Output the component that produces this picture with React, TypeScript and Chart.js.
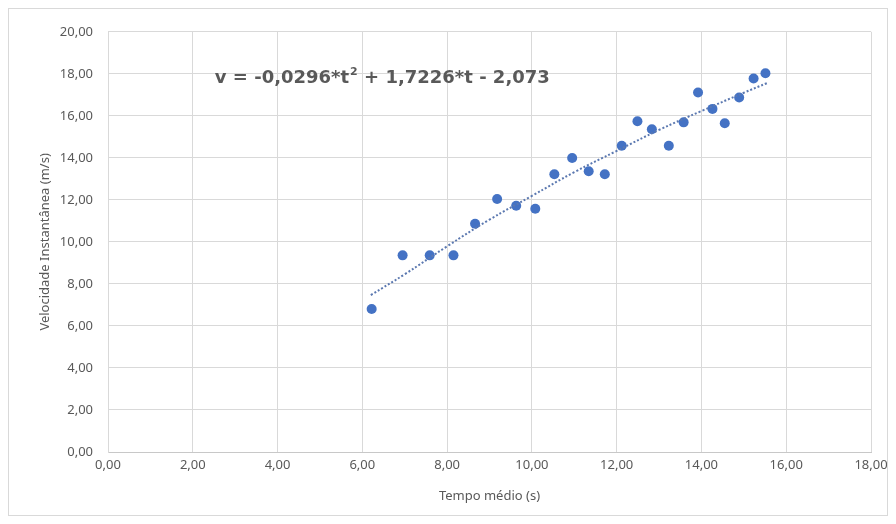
import React, { useEffect, useRef } from "react";
import { Chart, registerables } from "chart.js";

Chart.register(...registerables);

// Measured points: average time (s) and instantaneous velocity (m/s)
const tempo: number[] = [6.22, 6.95, 7.59, 8.15, 8.66, 9.18, 9.63, 10.08, 10.53, 10.95, 11.34, 11.72, 12.12, 12.49, 12.83, 13.23, 13.58, 13.92, 14.26, 14.55, 14.89, 15.23, 15.51];
const velocidade: number[] = [6.81, 9.36, 9.36, 9.36, 10.86, 12.04, 11.72, 11.58, 13.22, 13.99, 13.36, 13.22, 14.58, 15.74, 15.36, 14.58, 15.69, 17.11, 16.33, 15.65, 16.87, 17.78, 18.03];

// Dotted trendline
const trendT: number[] = [6.2, 7, 8, 9, 10, 11, 12, 13, 14, 15, 15.55];
const trendV: number[] = [7.47, 8.46, 9.79, 11.06, 12.19, 13.32, 14.33, 15.33, 16.23, 17.1, 17.56];

const xTicks: number[] = [0, 2, 4, 6, 8, 10, 12, 14, 16, 18];
const yTicks: number[] = [0, 2, 4, 6, 8, 10, 12, 14, 16, 18, 20];

const eqPart1 = "v = -0,0296*t";
const eqSup = "2";
const eqPart2 = " + 1,7226*t - 2,073";
const eqAnchor = { t: 2.52, v: 17.8 };

const fmt = (v: number) => v.toFixed(2).replace(".", ",");
const FONT = "'Noto Sans', 'Open Sans', sans-serif";
const EQFONT = "'DejaVu Sans', 'Noto Sans', sans-serif";
const GREY = "#595959";

const equationPlugin = {
  id: "equation",
  afterDatasetsDraw(chart: any) {
    const { ctx, scales } = chart;
    const x = scales.x.getPixelForValue(eqAnchor.t);
    const y = scales.y.getPixelForValue(eqAnchor.v);
    ctx.save();
    ctx.fillStyle = GREY;
    ctx.textBaseline = "middle";
    ctx.textAlign = "left";
    ctx.font = `bold 18px ${EQFONT}`;
    ctx.fillText(eqPart1, x, y);
    const w = ctx.measureText(eqPart1).width;
    ctx.font = `bold 11px ${EQFONT}`;
    ctx.fillText(eqSup, x + w + 1, y - 6);
    const ws = ctx.measureText(eqSup).width;
    ctx.font = `bold 18px ${EQFONT}`;
    ctx.fillText(eqPart2, x + w + ws + 1, y);
    ctx.restore();
  },
};

export default function App() {
  const ref = useRef<HTMLCanvasElement | null>(null);

  useEffect(() => {
    if (!ref.current) return;
    const chart = new Chart(ref.current, {
      type: "scatter",
      data: {
        datasets: [
          {
            label: "Tendência",
            type: "line",
            data: trendT.map((t, i) => ({ x: t, y: trendV[i] })),
            borderColor: "#5b78b0",
            borderWidth: 2,
            borderDash: [2, 2],
            pointRadius: 0,
            tension: 0.4,
            fill: false,
            order: 0,
          } as any,
          {
            label: "Velocidade",
            data: tempo.map((t, i) => ({ x: t, y: velocidade[i] })),
            backgroundColor: "#4472C4",
            borderColor: "#4472C4",
            pointRadius: 5,
            pointBorderWidth: 0,
            order: 1,
          },
        ],
      },
      options: {
        animation: false,
        responsive: false,
        maintainAspectRatio: false,
        layout: { padding: { top: 20, right: 16, bottom: 0, left: 0 } },
        plugins: {
          legend: { display: false },
          tooltip: { enabled: false },
        },
        scales: {
          x: {
            type: "linear",
            min: 0,
            max: 18,
            afterBuildTicks: (s: any) => {
              s.ticks = xTicks.map((v) => ({ value: v }));
            },
            afterFit: (s: any) => {
              s.height = 63;
              s.paddingRight = 0;
              s.paddingLeft = 0;
            },
            grid: { color: "#d9d9d9", drawTicks: false },
            border: { color: "#c8c8c8" },
            ticks: {
              padding: 5,
              color: GREY,
              font: { family: FONT, size: 13 },
              callback: (v: any) => fmt(Number(v)),
            },
            title: {
              display: true,
              text: "Tempo médio (s)",
              color: GREY,
              font: { family: FONT, size: 13 },
              padding: { top: 0, bottom: 11 },
            },
          },
          y: {
            type: "linear",
            min: 0,
            max: 20,
            afterBuildTicks: (s: any) => {
              s.ticks = yTicks.map((v) => ({ value: v }));
            },
            afterFit: (s: any) => {
              s.width = 99;
            },
            grid: { color: "#d9d9d9", drawTicks: false },
            border: { color: "#d9d9d9" },
            ticks: {
              padding: 15,
              color: GREY,
              font: { family: FONT, size: 13 },
              callback: (v: any) => fmt(Number(v)),
            },
            title: {
              display: true,
              text: "Velocidade Instantânea (m/s)",
              color: GREY,
              font: { family: FONT, size: 13 },
              padding: { top: 28, bottom: 0 },
            },
          },
        },
      },
      plugins: [equationPlugin],
    });
    return () => chart.destroy();
  }, []);

  return (
    <div
      style={{
        width: 880,
        height: 508,
        boxSizing: "border-box",
        border: "1px solid #d9d9d9",
        background: "#fff",
      }}
    >
      <canvas ref={ref} width={878} height={506} style={{ display: "block" }} />
    </div>
  );
}
